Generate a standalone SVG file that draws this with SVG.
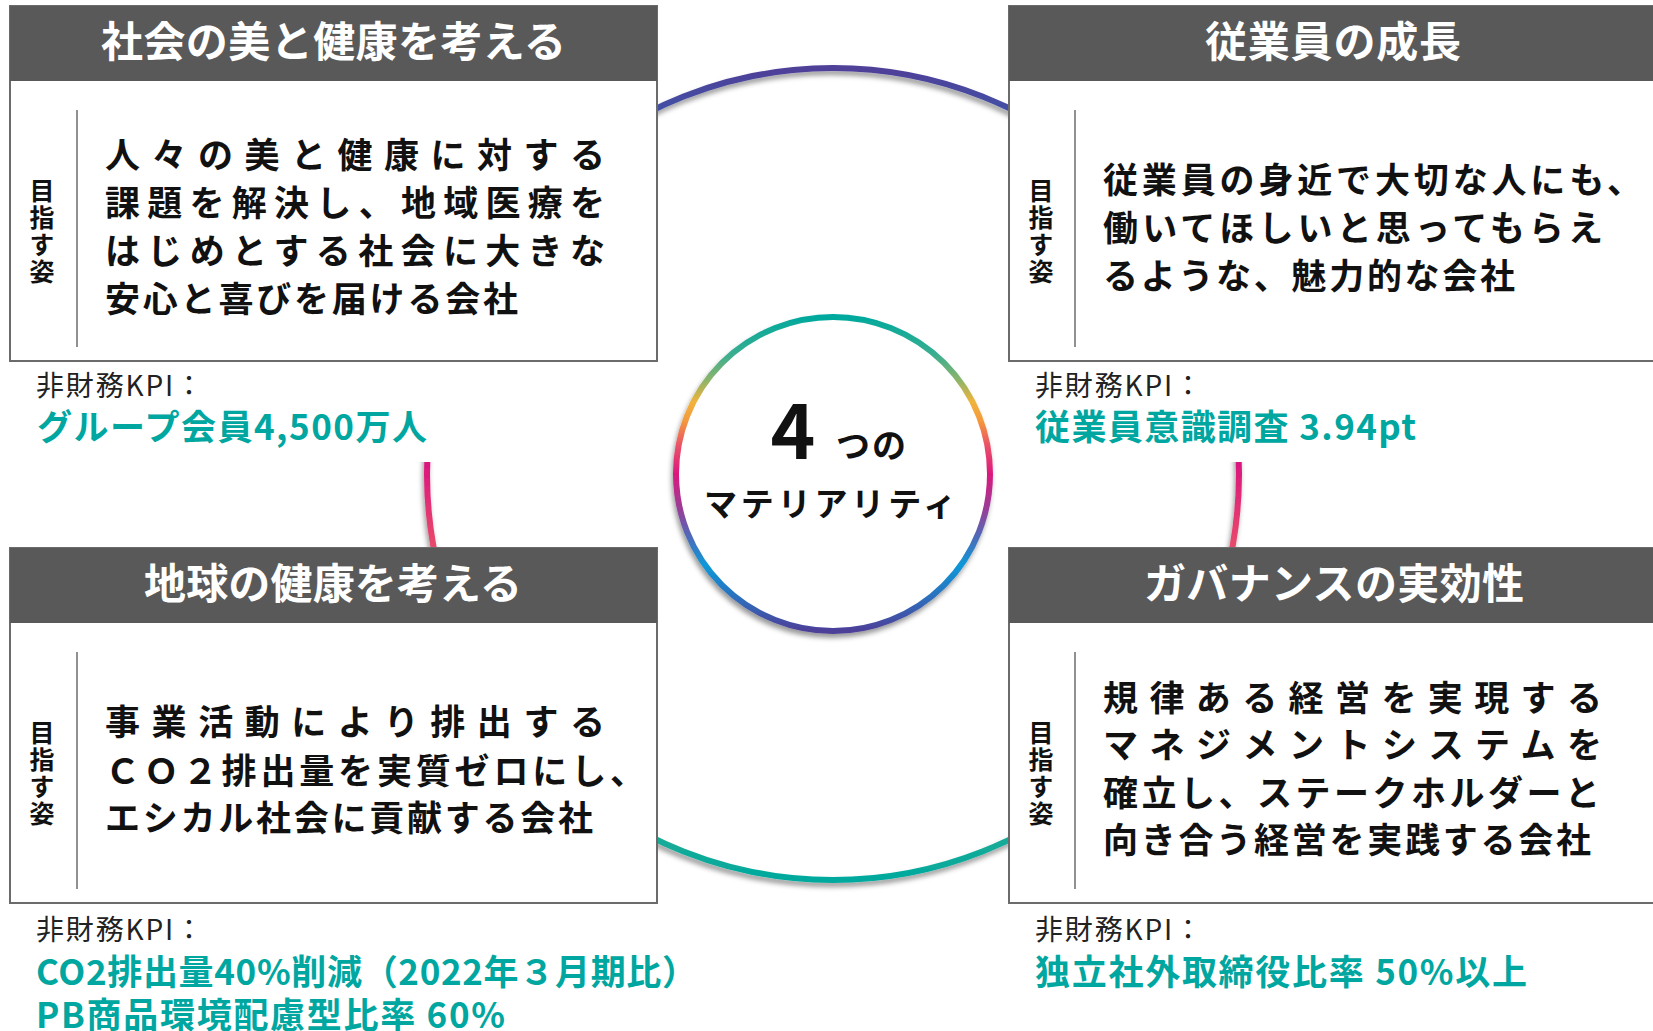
<svg xmlns="http://www.w3.org/2000/svg" width="1653" height="1031" viewBox="0 0 1653 1031">
<defs>
<style>
text { font-family: "Noto Sans CJK JP", "Noto Sans", sans-serif; }
.box { fill: #ffffff; stroke: #6b6b6b; stroke-width: 2; }
.hdr { fill: #595959; }
.div { stroke: #6b6b6b; stroke-width: 1.5; }
.ht { font-weight: 700; font-size: 42px; fill: #ffffff; }
.mt { font-weight: 700; font-size: 35px; fill: #111111; }
.vt { font-weight: 700; font-size: 25px; fill: #111111; writing-mode: vertical-rl; letter-spacing: 2px; }
.kl { font-weight: 400; font-size: 28px; fill: #222222; }
.kv { font-weight: 700; font-size: 35px; fill: #00a6a0; }
.ct { font-weight: 700; fill: #111111; }
</style>
<linearGradient id="gSmall" gradientUnits="userSpaceOnUse" x1="0" y1="317" x2="0" y2="631">
<stop offset="0" stop-color="#00a99d"/>
<stop offset="0.12" stop-color="#3aae90"/>
<stop offset="0.2" stop-color="#8bb46a"/>
<stop offset="0.27" stop-color="#f0b43c"/>
<stop offset="0.33" stop-color="#f4993c"/>
<stop offset="0.41" stop-color="#ea5168"/>
<stop offset="0.5" stop-color="#dc187d"/>
<stop offset="0.61" stop-color="#9a3d98"/>
<stop offset="0.7" stop-color="#4e6ab8"/>
<stop offset="0.79" stop-color="#0d98d8"/>
<stop offset="0.9" stop-color="#2f6cbb"/>
<stop offset="1" stop-color="#4d3f98"/>
</linearGradient>
<linearGradient id="gBig" gradientUnits="userSpaceOnUse" x1="0" y1="68" x2="0" y2="880">
<stop offset="0" stop-color="#4f3f98"/>
<stop offset="0.1" stop-color="#3560b0"/>
<stop offset="0.21" stop-color="#0d98d8"/>
<stop offset="0.3" stop-color="#4e6ab8"/>
<stop offset="0.39" stop-color="#9a3d98"/>
<stop offset="0.49" stop-color="#dc187d"/>
<stop offset="0.59" stop-color="#e84a6a"/>
<stop offset="0.67" stop-color="#f4993c"/>
<stop offset="0.73" stop-color="#f0b43c"/>
<stop offset="0.8" stop-color="#8bb46a"/>
<stop offset="0.88" stop-color="#3aae90"/>
<stop offset="1" stop-color="#00a99d"/>
</linearGradient>
<filter id="sh" x="-10%" y="-10%" width="120%" height="125%">
<feDropShadow dx="-1.5" dy="4" stdDeviation="2.5" flood-color="#000000" flood-opacity="0.4"/>
</filter>
</defs>
<rect x="0" y="0" width="1653" height="1031" fill="#ffffff"/>

<g id="connectors">
<circle cx="833" cy="474" r="406" fill="none" stroke="url(#gBig)" stroke-width="6" filter="url(#sh)"/>
<rect x="0" y="362" width="657" height="100" fill="#ffffff"/>
<rect x="1009" y="362" width="644" height="100" fill="#ffffff"/>
</g>

<g id="node-society">
<rect class="box" x="10" y="6" width="647" height="355"/>
<rect class="hdr" x="10" y="6" width="647" height="75"/>
<text class="ht" x="101" y="57" textLength="465" lengthAdjust="spacing">社会の美と健康を考える</text>
<line class="div" x1="77" y1="110" x2="77" y2="347"/>
<text class="vt" x="42" y="178">目指す姿</text>
<text class="mt" x="105" y="168" textLength="500" lengthAdjust="spacing">人々の美と健康に対する</text>
<text class="mt" x="105" y="216" textLength="500" lengthAdjust="spacing">課題を解決し、地域医療を</text>
<text class="mt" x="105" y="264" textLength="500" lengthAdjust="spacing">はじめとする社会に大きな</text>
<text class="mt" x="105" y="312" textLength="413" lengthAdjust="spacing">安心と喜びを届ける会社</text>
<text class="kl" x="36" y="396" textLength="167" lengthAdjust="spacing">非財務KPI：</text>
<text class="kv" x="37" y="440" textLength="390" lengthAdjust="spacing">グループ会員4,500万人</text>
</g>

<g id="node-employee">
<rect class="box" x="1009" y="6" width="647" height="355"/>
<rect class="hdr" x="1009" y="6" width="647" height="75"/>
<text class="ht" x="1205" y="57" textLength="256" lengthAdjust="spacing">従業員の成長</text>
<line class="div" x1="1075" y1="110" x2="1075" y2="347"/>
<text class="vt" x="1041" y="178">目指す姿</text>
<text class="mt" x="1103" y="193" textLength="539" lengthAdjust="spacing">従業員の身近で大切な人にも、</text>
<text class="mt" x="1103" y="241" textLength="500" lengthAdjust="spacing">働いてほしいと思ってもらえ</text>
<text class="mt" x="1103" y="289" textLength="412" lengthAdjust="spacing">るような、魅力的な会社</text>
<text class="kl" x="1035" y="396" textLength="167" lengthAdjust="spacing">非財務KPI：</text>
<text class="kv" x="1035" y="440" textLength="381" lengthAdjust="spacing">従業員意識調査 3.94pt</text>
</g>

<g id="node-planet">
<rect class="box" x="10" y="548" width="647" height="355"/>
<rect class="hdr" x="10" y="548" width="647" height="75"/>
<text class="ht" x="144" y="599" textLength="378" lengthAdjust="spacing">地球の健康を考える</text>
<line class="div" x1="77" y1="652" x2="77" y2="889"/>
<text class="vt" x="42" y="720">目指す姿</text>
<text class="mt" x="105" y="735" textLength="500" lengthAdjust="spacing">事業活動により排出する</text>
<text class="mt" x="105" y="784" textLength="540" lengthAdjust="spacing">ＣＯ２排出量を実質ゼロにし、</text>
<text class="mt" x="105" y="831" textLength="488" lengthAdjust="spacing">エシカル社会に貢献する会社</text>
<text class="kl" x="36" y="940" textLength="167" lengthAdjust="spacing">非財務KPI：</text>
<text class="kv" x="36" y="985" textLength="661" lengthAdjust="spacing">CO2排出量40%削減（2022年３月期比）</text>
<text class="kv" x="36" y="1028" textLength="469" lengthAdjust="spacing">PB商品環境配慮型比率 60%</text>
</g>

<g id="node-governance">
<rect class="box" x="1009" y="548" width="647" height="355"/>
<rect class="hdr" x="1009" y="548" width="647" height="75"/>
<text class="ht" x="1144" y="599" textLength="380" lengthAdjust="spacing">ガバナンスの実効性</text>
<line class="div" x1="1075" y1="652" x2="1075" y2="889"/>
<text class="vt" x="1041" y="720">目指す姿</text>
<text class="mt" x="1103" y="711" textLength="499" lengthAdjust="spacing">規律ある経営を実現する</text>
<text class="mt" x="1103" y="758" textLength="499" lengthAdjust="spacing">マネジメントシステムを</text>
<text class="mt" x="1103" y="806" textLength="497" lengthAdjust="spacing">確立し、ステークホルダーと</text>
<text class="mt" x="1103" y="853" textLength="488" lengthAdjust="spacing">向き合う経営を実践する会社</text>
<text class="kl" x="1035" y="940" textLength="167" lengthAdjust="spacing">非財務KPI：</text>
<text class="kv" x="1035" y="985" textLength="492" lengthAdjust="spacing">独立社外取締役比率 50%以上</text>
</g>

<g id="node-center">
<circle cx="833" cy="474" r="157" fill="#ffffff" stroke="url(#gSmall)" stroke-width="6" filter="url(#sh)"/>
<text class="ct" x="793" y="459" font-size="76" text-anchor="middle">4</text>
<text class="ct" x="836" y="458" font-size="34" textLength="70" lengthAdjust="spacing">つの</text>
<text class="ct" x="704" y="516" font-size="33" textLength="252" lengthAdjust="spacing">マテリアリティ</text>
</g>
</svg>
